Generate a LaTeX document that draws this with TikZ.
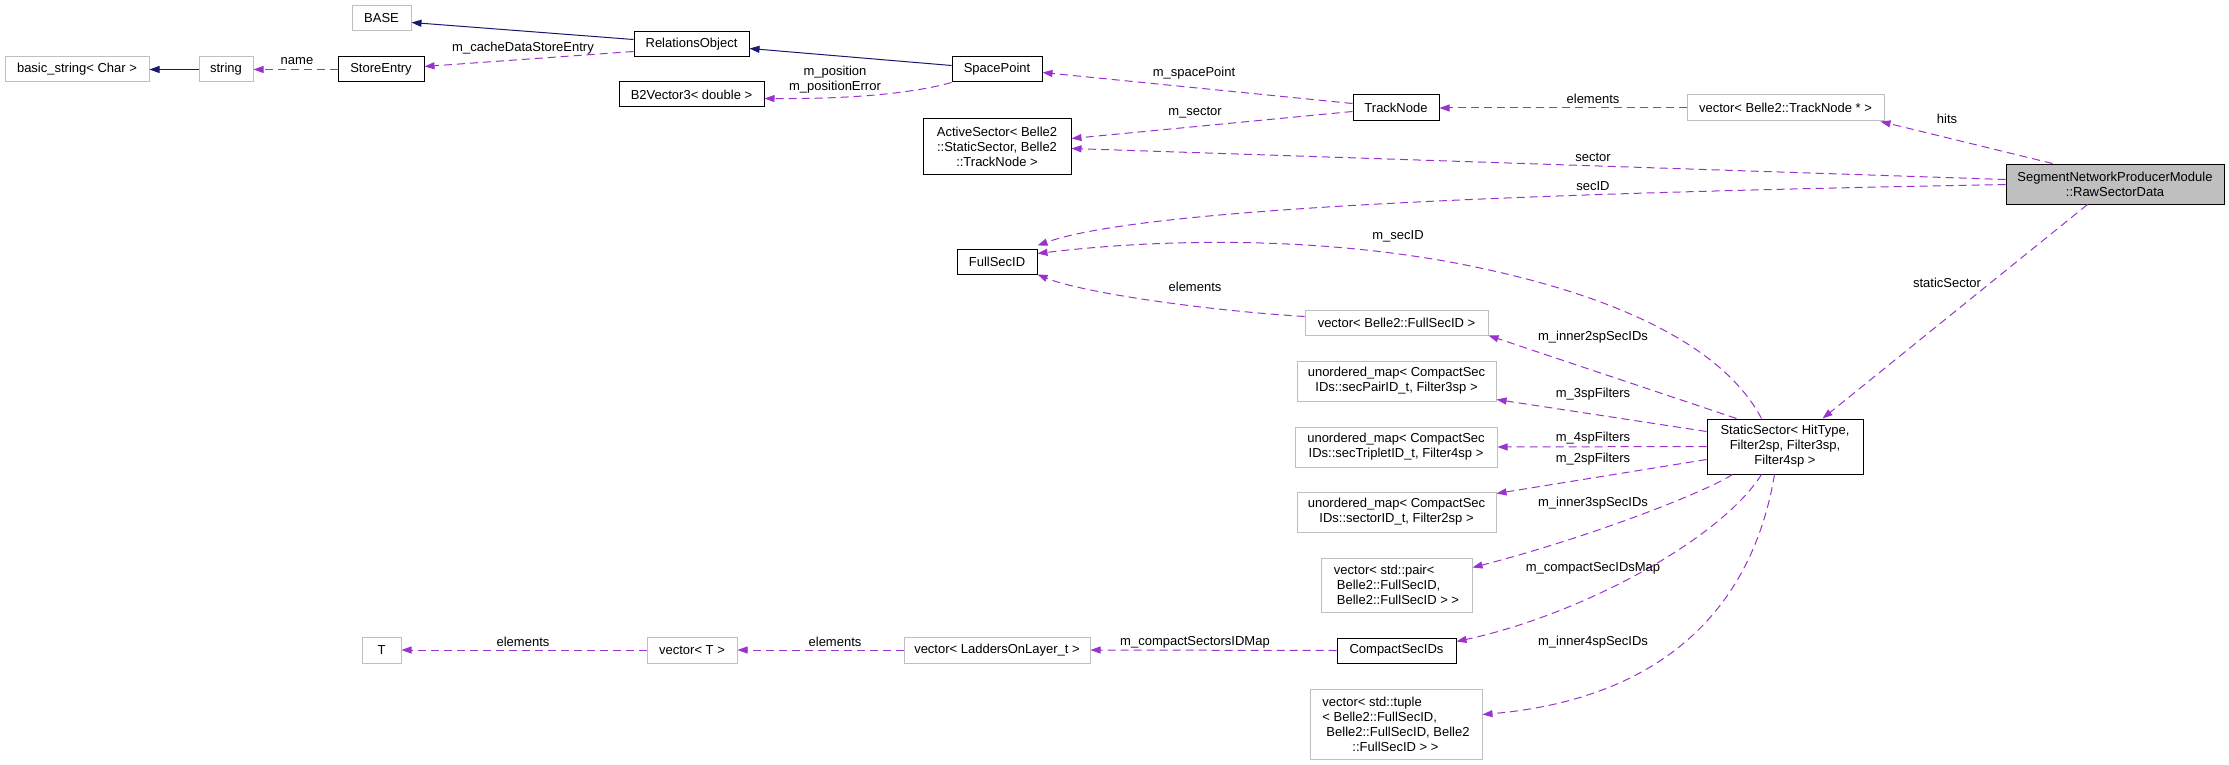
\documentclass[tikz,border=0pt]{standalone}
\usepackage{fontspec}
\setmainfont{Liberation Sans}
\usetikzlibrary{arrows.meta,calc}
\definecolor{edgepurple}{HTML}{9A32CD}
\definecolor{inhnavy}{HTML}{191970}
\definecolor{boxgray}{HTML}{BFBFBF}
\tikzset{
  basebox/.style={rectangle, inner sep=0pt, line width=1pt, font=\fontsize{13}{15}\selectfont, align=center},
  bbox/.style={basebox, draw=black},
  gbox/.style={basebox, draw=boxgray},
  focusbox/.style={basebox, draw=black, fill=boxgray},
  inh/.style={draw=inhnavy, line width=1pt, -{Triangle[length=10pt,width=7pt]}, inhnavy},
  usage/.style={draw=edgepurple, line width=1pt, dash pattern=on 8pt off 5pt, -{Triangle[length=10pt,width=7pt]}, edgepurple},
  lbl/.style={inner sep=0pt, font=\fontsize{13}{15}\selectfont, align=center}
}
\begin{document}
\begin{tikzpicture}[x=1pt,y=-1pt]
\useasboundingbox (0,0) rectangle (2229,765);
% nodes
\node[gbox, minimum width=59pt, minimum height=25pt] (base) at (381.5,18.5) {BASE};
\node[gbox, minimum width=144pt, minimum height=25pt] (bs) at (77,69.5) {basic\_string< Char >};
\node[gbox, minimum width=54pt, minimum height=25pt] (str) at (226,69.5) {string};
\node[bbox, minimum width=86pt, minimum height=25pt] (se) at (381,69.5) {StoreEntry};
\node[bbox, minimum width=115pt, minimum height=25pt] (ro) at (691.5,44.5) {RelationsObject};
\node[bbox, minimum width=90pt, minimum height=25pt] (sp) at (997,69.5) {SpacePoint};
\node[bbox, minimum width=145pt, minimum height=25pt] (b2) at (691.5,94.5) {B2Vector3< double >};
\node[bbox, minimum width=148pt, minimum height=55pt] (as) at (997,146.5) {ActiveSector< Belle2\\::StaticSector, Belle2\\::TrackNode >};
\node[bbox, minimum width=86pt, minimum height=26pt] (tn) at (1396,108) {TrackNode};
\node[gbox, minimum width=197pt, minimum height=26pt] (vtn) at (1785.5,108) {vector< Belle2::TrackNode * >};
\node[focusbox, minimum width=218pt, minimum height=40pt] (snpm) at (2115,184) {SegmentNetworkProducerModule\\::RawSectorData};
\node[bbox, minimum width=80pt, minimum height=25pt] (fs) at (997,261.5) {FullSecID};
\node[gbox, minimum width=183pt, minimum height=25pt] (vfs) at (1396.5,322.5) {vector< Belle2::FullSecID >};
\node[gbox, minimum width=199pt, minimum height=40pt] (u3) at (1396.5,381) {unordered\_map< CompactSec\\IDs::secPairID\_t, Filter3sp >};
\node[gbox, minimum width=202pt, minimum height=40pt] (u4) at (1396,447) {unordered\_map< CompactSec\\IDs::secTripletID\_t, Filter4sp >};
\node[gbox, minimum width=199pt, minimum height=40pt] (u2) at (1396.5,512) {unordered\_map< CompactSec\\IDs::sectorID\_t, Filter2sp >};
\node[gbox, minimum width=151pt, minimum height=54pt, align=left] (vp) at (1396.5,585) {vector< std::pair<\\\hspace*{3pt}Belle2::FullSecID,\\\hspace*{3pt}Belle2::FullSecID > >};
\node[bbox, minimum width=119pt, minimum height=25pt] (cs) at (1396.5,650.5) {CompactSecIDs};
\node[gbox, minimum width=172pt, minimum height=70pt, align=left] (vt) at (1396,724) {vector< std::tuple\\< Belle2::FullSecID,\\\hspace*{4pt}Belle2::FullSecID, Belle2\\\hspace*{30pt}::FullSecID > >};
\node[bbox, minimum width=156pt, minimum height=55pt] (ss) at (1785,446.5) {StaticSector< HitType,\\Filter2sp, Filter3sp,\\Filter4sp >};
\node[gbox, minimum width=39pt, minimum height=26pt] (T) at (381.5,650) {T};
\node[gbox, minimum width=90pt, minimum height=26pt] (vT) at (692,650) {vector< T >};
\node[gbox, minimum width=186pt, minimum height=26pt] (vl) at (997,650) {vector< LaddersOnLayer\_t >};
% inheritance edges
\draw[inh] (str.west) -- (bs.east);
\draw[inh] ($(ro.north west)+(0,8)$) -- ($(base.south east)+(0,-9)$);
\draw[inh] ($(sp.north west)+(0,9)$) -- ($(ro.north east)+(0,17)$);
% usage edges
\draw[usage] (se.west) -- (str.east);
\draw[usage] ($(ro.north west)+(0,20)$) -- ($(se.north east)+(0,10)$);
\draw[usage] (sp.south west) .. controls (900,97) and (820,99) .. ($(b2.north east)+(0,17)$);
\draw[usage] ($(tn.north west)+(0,9)$) -- ($(sp.north east)+(0,16)$);
\draw[usage] ($(tn.north west)+(0,17)$) -- ($(as.north east)+(0,20)$);
\draw[usage] (vtn.west) -- (tn.east);
\draw[usage] ($(snpm.north west)+(47,0)$) -- ($(vtn.south east)+(-4,0)$);
\draw[usage] ($(snpm.north west)+(0,16)$) -- ($(as.north east)+(0,30)$);
\draw[usage] ($(snpm.north west)+(0,21)$) .. controls (1600,192) and (1150,205) .. ($(fs.north east)+(0,-3)$);
\draw[usage] ($(snpm.south west)+(82,0)$) -- ($(ss.north east)+(-41,0)$);
\draw[usage] ($(ss.north west)+(55,0)$) .. controls (1720,340) and (1600,290) .. (1450,262) .. controls (1300,235) and (1150,240) .. ($(fs.north east)+(0,5)$);
\draw[usage] ($(vfs.north west)+(0,7)$) .. controls (1200,310) and (1080,292) .. (fs.south east);
\draw[usage] ($(ss.north west)+(30,0)$) -- (vfs.south east);
\draw[usage] ($(ss.north west)+(0,13)$) -- ($(u3.south east)+(0,-2)$);
\draw[usage] (ss.west) -- (u4.east);
\draw[usage] ($(ss.north west)+(0,41)$) -- ($(u2.north east)+(0,2)$);
\draw[usage] ($(ss.south west)+(26,0)$) .. controls (1700,495) and (1580,540) .. ($(vp.north east)+(0,10)$);
\draw[usage] ($(ss.south west)+(55,0)$) .. controls (1720,540) and (1580,615) .. ($(cs.north east)+(0,4)$);
\draw[usage] ($(ss.south west)+(68,0)$) .. controls (1750,620) and (1650,700) .. ($(vt.north east)+(0,26)$);
\draw[usage] (cs.west) -- (vl.east);
\draw[usage] (vl.west) -- (vT.east);
\draw[usage] (vT.west) -- (T.east);
% edge labels
\node[lbl] (l1) at (297,61) {name};
\node[lbl] (l2) at (523,48) {m\_cacheDataStoreEntry};
\node[lbl] (l3) at (835,80) {m\_position\\m\_positionError};
\node[lbl] (l4) at (1194,73) {m\_spacePoint};
\node[lbl] (l5) at (1195,113) {m\_sector};
\node[lbl] (l6) at (1593,99) {elements};
\node[lbl] (l7) at (1947,119) {hits};
\node[lbl] (l8) at (1593,157) {sector};
\node[lbl] (l9) at (1593,186) {secID};
\node[lbl] (l10) at (1398,236) {m\_secID};
\node[lbl] (l11) at (1195,287) {elements};
\node[lbl] (l12) at (1947,283) {staticSector};
\node[lbl] (l13) at (1593,337) {m\_inner2spSecIDs};
\node[lbl] (l14) at (1593,394) {m\_3spFilters};
\node[lbl] (l15) at (1593,438) {m\_4spFilters};
\node[lbl] (l16) at (1593,459) {m\_2spFilters};
\node[lbl] (l17) at (1593,503) {m\_inner3spSecIDs};
\node[lbl] (l18) at (1593,568) {m\_compactSecIDsMap};
\node[lbl] (l19) at (1593,642) {m\_inner4spSecIDs};
\node[lbl] (l20) at (1195,642) {m\_compactSectorsIDMap};
\node[lbl] (l21) at (835,642) {elements};
\node[lbl] (l22) at (523,642) {elements};
\end{tikzpicture}
\end{document}
